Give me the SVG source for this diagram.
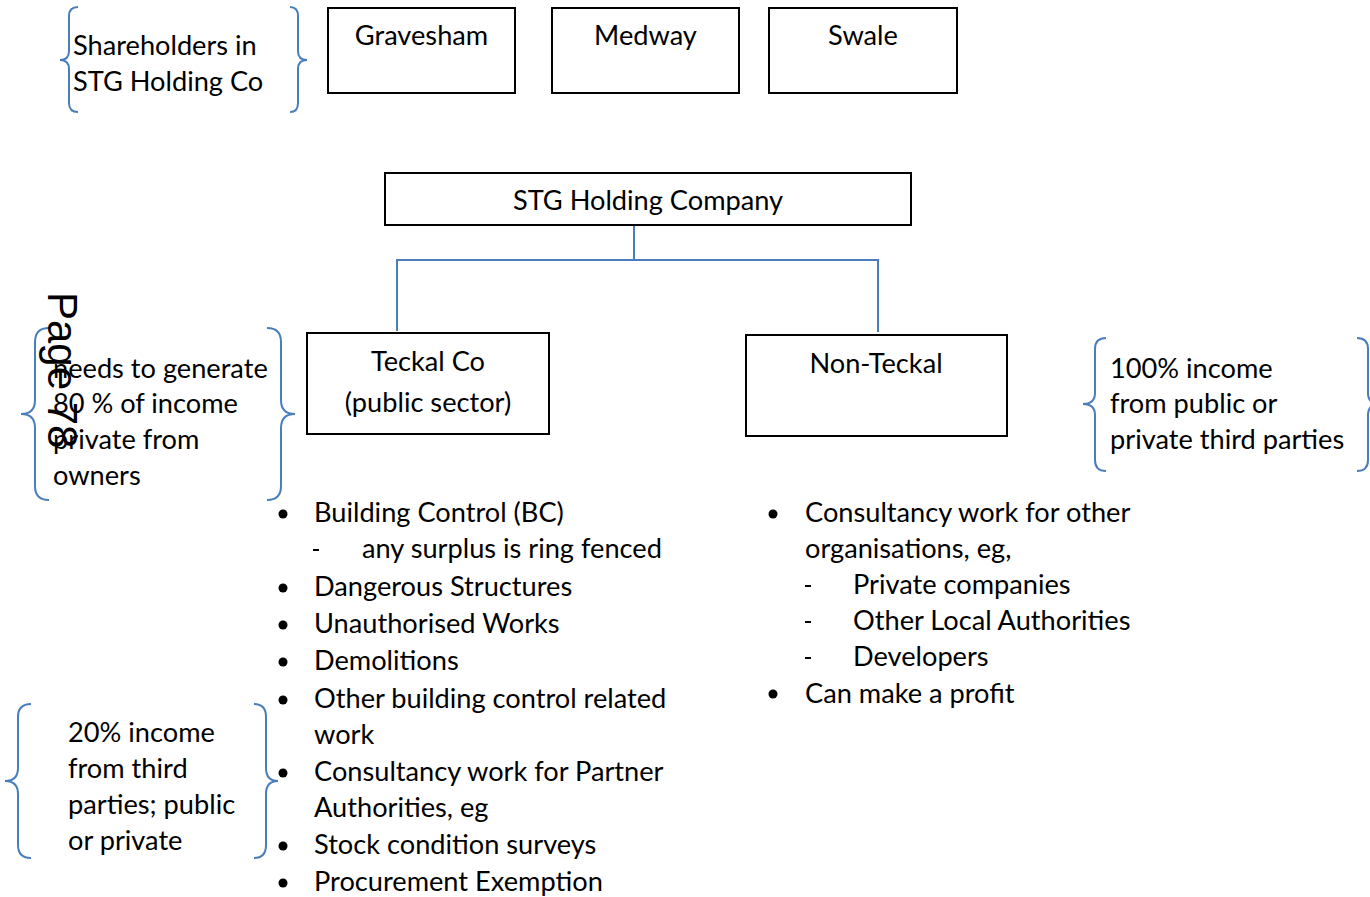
<svg xmlns="http://www.w3.org/2000/svg" width="1370" height="897" viewBox="0 0 1370 897">
<style>
text{font-family:Lato,"Open Sans","Liberation Sans",sans-serif;font-size:27.2px;fill:#000}
.c{text-anchor:middle}
.box{fill:#fff;stroke:#000;stroke-width:2}
.br{fill:none;stroke:#4A7EBB;stroke-width:2}
.con{fill:none;stroke:#4A7EBB;stroke-width:2}
.page{font-family:"Liberation Sans",Arial,sans-serif;font-size:42px}
</style>
<rect width="1370" height="897" fill="#fff"/>
<g id="connectors">
<path class="con" d="M634,226 V260 M397,331 V260 H878 V332"/>
</g>
<g id="shareholders">
<path class="br" d="M78,7 Q69,7 69,16 V51 Q69,60 60,60 Q69,60 69,69 V103 Q69,112 78,112"/>
<path class="br" d="M290,7 Q298,7 298,16 V51 Q298,60 307,60 Q298,60 298,69 V103 Q298,112 290,112"/>
<text x="73" y="55">Shareholders in</text>
<text x="73" y="91">STG Holding Co</text>
</g>
<g id="gravesham"><rect class="box" x="328" y="8" width="187" height="85"/><text class="c" x="421.5" y="45">Gravesham</text></g>
<g id="medway"><rect class="box" x="552" y="8" width="187" height="85"/><text class="c" x="645.5" y="45">Medway</text></g>
<g id="swale"><rect class="box" x="769" y="8" width="188" height="85"/><text class="c" x="863" y="45">Swale</text></g>
<g id="holding"><rect class="box" x="385" y="173" width="526" height="52"/><text class="c" x="648" y="210">STG Holding Company</text></g>
<g id="teckal"><rect class="box" x="307" y="333" width="242" height="101"/><text class="c" x="428" y="371">Teckal Co</text><text class="c" x="428" y="412">(public sector)</text></g>
<g id="nonteckal"><rect class="box" x="746" y="335" width="261" height="101"/><text class="c" x="876" y="373">Non-Teckal</text></g>
<g id="note-80">
<path class="br" d="M49,328 Q35,328 35,342 V400 Q35,414 21,414 Q35,414 35,428 V486 Q35,500 49,500"/>
<path class="br" d="M267,328 Q281,328 281,342 V400 Q281,414 295,414 Q281,414 281,428 V486 Q281,500 267,500"/>
<text x="53" y="378">needs to generate</text>
<text x="53" y="413">80 % of income</text>
<text x="53" y="449">private from</text>
<text x="53" y="485">owners</text>
</g>
<g id="note-100">
<path class="br" d="M1106,338 Q1095,338 1095,349 V393 Q1095,404 1083,404 Q1095,404 1095,415 V460 Q1095,471 1106,471"/>
<path class="br" d="M1357,338 Q1368,338 1368,349 V393 Q1368,404 1380,404 Q1368,404 1368,415 V460 Q1368,471 1357,471"/>
<text x="1110" y="378">100% income</text>
<text x="1110" y="413">from public or</text>
<text x="1110" y="449">private third parties</text>
</g>
<g id="note-20">
<path class="br" d="M31,704 Q18,704 18,717 V768 Q18,781 5,781 Q18,781 18,794 V845 Q18,858 31,858"/>
<path class="br" d="M254,704 Q266,704 266,717 V768 Q266,781 278,781 Q266,781 266,794 V845 Q266,858 254,858"/>
<text x="68" y="742">20% income</text>
<text x="68" y="778">from third</text>
<text x="68" y="814">parties; public</text>
<text x="68" y="850">or private</text>
</g>
<g id="teckal-list">
<g fill="#000">
<circle cx="283" cy="514" r="4.5"/><circle cx="283" cy="588" r="4.5"/><circle cx="283" cy="625" r="4.5"/><circle cx="283" cy="662" r="4.5"/><circle cx="283" cy="700" r="4.5"/><circle cx="283" cy="773" r="4.5"/><circle cx="283" cy="846" r="4.5"/><circle cx="283" cy="883" r="4.5"/>
</g>
<rect x="313" y="549" width="6" height="2" fill="#000"/>
<text x="314" y="522">Building Control (BC)</text>
<text x="362" y="558">any surplus is ring fenced</text>
<text x="314" y="596">Dangerous Structures</text>
<text x="314" y="633">Unauthorised Works</text>
<text x="314" y="670">Demolitions</text>
<text x="314" y="708">Other building control related</text>
<text x="314" y="744">work</text>
<text x="314" y="781">Consultancy work for Partner</text>
<text x="314" y="817">Authorities, eg</text>
<text x="314" y="854">Stock condition surveys</text>
<text x="314" y="891">Procurement Exemption</text>
</g>
<g id="nonteckal-list">
<g fill="#000"><circle cx="773" cy="514" r="4.5"/><circle cx="773" cy="694" r="4.5"/></g>
<g fill="#000"><rect x="805" y="585" width="6" height="2"/><rect x="805" y="621" width="6" height="2"/><rect x="805" y="657" width="6" height="2"/></g>
<text x="805" y="522">Consultancy work for other</text>
<text x="805" y="558">organisations, eg,</text>
<text x="853" y="594">Private companies</text>
<text x="853" y="630">Other Local Authorities</text>
<text x="853" y="666">Developers</text>
<text x="805" y="703">Can make a profit</text>
</g>
<text class="page" transform="translate(48,292) rotate(90)">Page 78</text>
</svg>
